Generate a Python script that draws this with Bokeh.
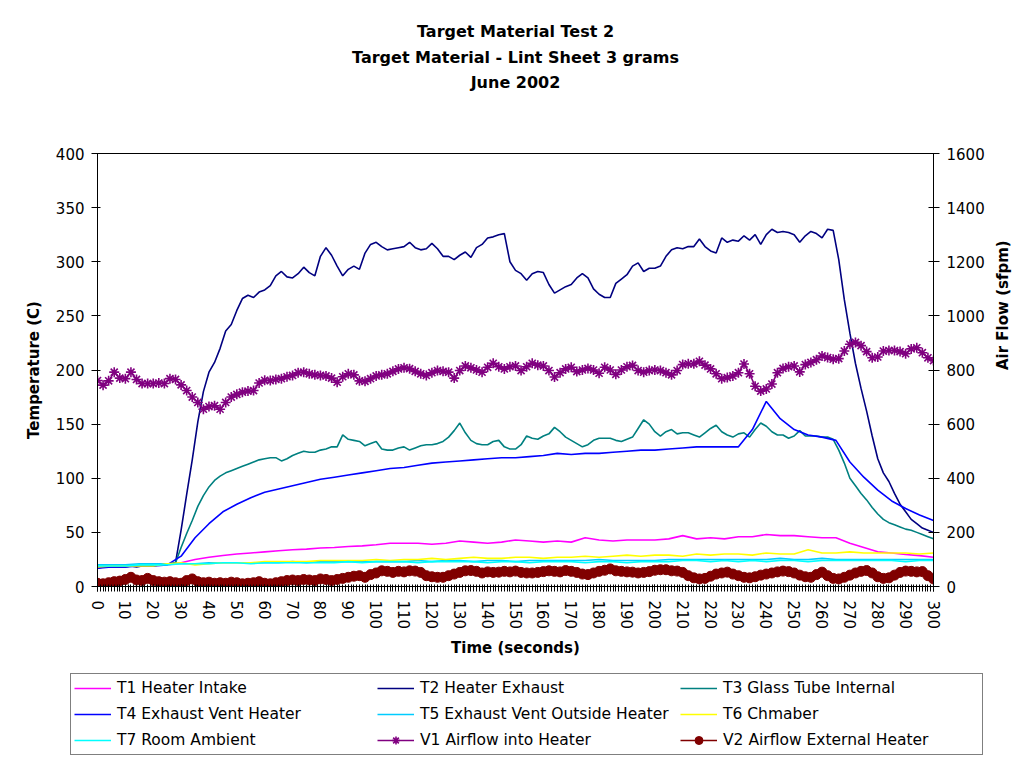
from bokeh.plotting import figure
from bokeh.models import (Range1d, LinearAxis, SingleIntervalTicker, Legend, LegendItem, Title)
from bokeh.embed import file_html
from bokeh.resources import INLINE
import math

# ---------------- data ----------------
# time axis (seconds)
t_fine = list(range(0, 301, 2))
t_coarse = list(range(0, 301, 5))

T2_heater_exhaust = [17, 18, 18, 18, 18, 18, 19, 18, 19, 19, 19, 20, 20, 21, 22,
    52, 85, 117, 152, 180, 198, 207, 220, 236, 242, 255, 266, 269, 267, 272,
    274, 278, 287, 291, 286, 285, 289, 295, 290, 287, 305, 313, 306, 296, 287,
    293, 296, 293, 308, 316, 318, 314, 311, 312, 313, 314, 318, 313, 311, 312,
    317, 312, 305, 305, 302, 306, 309, 304, 313, 316, 322, 323, 325, 326, 300,
    292, 289, 283, 289, 291, 290, 279, 271, 274, 277, 279, 285, 289, 285, 275,
    270, 267, 267, 280, 284, 288, 296, 299, 291, 294, 294, 296, 305, 311, 313,
    312, 314, 314, 321, 314, 310, 308, 322, 318, 320, 319, 324, 320, 325, 316,
    325, 330, 327, 328, 327, 325, 318, 324, 328, 326, 322, 330, 329, 302, 265,
    234, 206, 183, 162, 139, 118, 105, 97, 86, 76, 69, 62, 58, 54, 52, 50]

T3_glass_tube = [18, 18, 18, 19, 19, 19, 19, 19, 20, 20, 20, 21, 21, 21, 22,
    36, 49, 61, 74, 84, 92, 98, 102, 105, 107, 109, 111, 113, 115, 117,
    118, 119, 119, 116, 118, 121, 123, 125, 124, 124, 126, 127, 129, 129, 140,
    136, 135, 134, 130, 132, 134, 127, 126, 126, 128, 129, 126, 128, 130, 131,
    131, 132, 134, 138, 144, 151, 142, 135, 132, 131, 131, 134, 135, 129, 127,
    127, 131, 139, 137, 136, 139, 141, 147, 143, 138, 135, 132, 129, 131, 135,
    137, 137, 137, 135, 134, 136, 138, 146, 154, 150, 143, 139, 143, 145, 141,
    142, 142, 140, 138, 142, 146, 149, 143, 140, 138, 141, 142, 138, 145, 151,
    148, 143, 140, 140, 137, 139, 144, 139, 139, 139, 138, 138, 136, 126, 114,
    100, 93, 86, 80, 73, 67, 62, 59, 57, 55, 53, 52, 50, 48, 46, 44]

V1_airflow_into = [761, 744, 760, 792, 770, 768, 792, 765, 750, 750, 750, 752, 750, 768, 765,
    745, 724, 700, 680, 655, 665, 668, 655, 680, 700, 710, 718, 722, 724, 752,
    762, 761, 765, 768, 775, 780, 790, 792, 786, 782, 780, 778, 770, 755, 775,
    786, 782, 760, 758, 768, 778, 782, 786, 795, 804, 808, 805, 795, 786, 780,
    790, 798, 795, 792, 770, 798, 815, 808, 800, 792, 810, 825, 812, 804, 812,
    815, 798, 812, 825, 818, 815, 798, 774, 790, 804, 810, 794, 800, 806, 800,
    788, 810, 800, 784, 800, 812, 817, 798, 792, 798, 800, 798, 790, 782, 798,
    820, 823, 823, 832, 818, 804, 786, 768, 772, 778, 790, 822, 786, 740, 722,
    730, 748, 790, 806, 812, 815, 793, 820, 828, 838, 852, 846, 840, 842, 870,
    895, 902, 890, 868, 845, 848, 870, 872, 872, 868, 860, 878, 882, 864, 845, 835]

V2_airflow_external = [12, 10, 14, 18, 20, 26, 34, 24, 22, 30, 22, 18, 16, 18, 14,
    12, 22, 28, 18, 14, 16, 12, 14, 12, 16, 14, 10, 12, 14, 18,
    12, 10, 14, 18, 22, 24, 22, 26, 24, 22, 28, 26, 22, 26, 30,
    34, 38, 40, 34, 44, 50, 58, 56, 52, 56, 54, 58, 57, 52, 40,
    36, 34, 34, 40, 46, 52, 58, 59, 56, 50, 54, 52, 53, 56, 54,
    57, 52, 50, 50, 52, 55, 58, 56, 54, 59, 56, 52, 46, 44, 50,
    56, 60, 65, 58, 56, 54, 53, 50, 52, 55, 60, 62, 62, 58, 57,
    52, 40, 32, 28, 30, 38, 46, 50, 53, 46, 40, 34, 32, 36, 42,
    46, 50, 54, 57, 55, 50, 42, 36, 34, 44, 53, 40, 30, 28, 34,
    42, 50, 56, 59, 50, 36, 30, 32, 42, 52, 57, 56, 54, 55, 40, 28]

T1_heater_intake = [18, 19, 19, 19, 20, 20, 22, 25, 27, 28.6, 30, 31, 32, 33, 34,
    34.5, 35.5, 36, 37, 37.5, 38.5, 40, 40, 40, 39, 40, 42, 41, 40, 41,
    43, 42, 41, 42, 41, 45, 43, 42, 43, 43, 43, 44, 47, 44, 45,
    44, 46, 46, 48, 47, 47, 46, 45, 45, 40, 36, 32, 31, 29.5, 28.5, 27]

T4_exhaust_vent = [17, 18, 18, 19, 19, 20, 28, 45, 58, 69, 76, 82, 87, 90, 93,
    96, 99, 101, 103, 105, 107, 109, 110, 112, 114, 115, 116, 117, 118, 119,
    119, 120, 121, 123, 122, 123, 123, 124, 125, 126, 126, 127, 128, 129, 129,
    129, 129, 145, 171, 155, 145, 140, 138, 135, 115, 101, 89, 79, 72, 66, 61]

T5_exhaust_outside = [20, 20, 20, 21, 21, 21, 21, 21, 22, 22, 22, 22, 22, 22, 23,
    22, 23, 23, 23, 23, 23, 23, 23, 24, 23, 24, 24, 23, 24, 24,
    23, 24, 24, 24, 24, 24, 25, 24, 24, 24, 24, 25, 25, 25, 25,
    25, 25, 25, 25, 26, 25, 25, 26, 25, 25, 25, 25, 25, 25, 25, 25]

T6_chamber = [18, 19, 19, 19, 19, 21, 22, 20, 21, 22, 22, 22, 23, 23, 23,
    23, 24, 24, 24, 24, 25, 24, 25, 25, 26, 25, 26, 27, 26, 26,
    27, 27, 26, 27, 27, 28, 27, 28, 29, 28, 29, 29, 28, 30, 29,
    30, 30, 29, 31, 30, 30, 34, 31, 31, 32, 31, 31, 31, 31, 30, 31]

T7_room_ambient = [19, 19, 19, 20, 20, 20, 21, 21, 21, 22, 22, 21, 22, 22, 22,
    22, 22, 22, 23, 22, 23, 23, 23, 22, 23, 23, 23, 23, 22, 23,
    23, 22, 23, 23, 23, 22, 23, 23, 22, 23, 23, 23, 24, 24, 23,
    24, 23, 24, 23, 24, 24, 23, 24, 24, 24, 24, 24, 24, 23, 24, 24]

title_lines = ["Target Material Test 2", "Target Material - Lint Sheet 3 grams", "June 2002"]

series_labels = ["T1 Heater Intake", "T2 Heater Exhaust", "T3 Glass Tube Internal",
                 "T4 Exhaust Vent Heater", "T5 Exhaust Vent Outside Heater", "T6 Chmaber",
                 "T7 Room Ambient", "V1 Airflow into Heater", "V2 Airflow External Heater"]
series_colors = ["#FF00FF", "#000080", "#008080", "#0000FF", "#00CCFF", "#FFFF00",
                 "#00FFFF", "#800080", "#800000"]

# ---------------- main figure ----------------
FONT = "DejaVu Sans"
W = 1026
H_MAIN = 660
H_LEG = 769 - H_MAIN

p = figure(width=W, height=H_MAIN, output_backend="svg", toolbar_location=None,
           x_range=Range1d(0, 300), y_range=Range1d(0, 400),
           min_border_left=97, min_border_right=93, min_border_top=153, min_border_bottom=H_MAIN - 586,
           background_fill_color="white", border_fill_color="white")
p.xgrid.visible = False
p.ygrid.visible = False
p.outline_line_color = "black"
p.outline_line_width = 1
p.extra_y_ranges = {"flow": Range1d(0, 1600)}

# spacer between frame and title block, then the three title lines (nearest first)
p.add_layout(Title(text=" ", text_font=FONT, text_font_size="16px", standoff=39), "above")
for txt, so in zip(reversed(title_lines), (4, 4, 6)):
    p.add_layout(Title(text=txt, align="center", text_font=FONT, text_font_size="16px",
                       text_font_style="bold", text_color="black", standoff=so), "above")

# x axis
xa = p.xaxis[0]
xa.ticker = SingleIntervalTicker(interval=10, num_minor_ticks=10)
xa.major_label_orientation = "vertical"
xa.axis_label = "Time (seconds)"

# left axis
ya = p.yaxis[0]
ya.ticker = SingleIntervalTicker(interval=50, num_minor_ticks=0)
ya.axis_label = "Temperature (C)"

# right axis
ra = LinearAxis(y_range_name="flow", axis_label="Air Flow (sfpm)",
                ticker=SingleIntervalTicker(interval=200, num_minor_ticks=0))
p.add_layout(ra, "right")

for ax in (xa, ya, ra):
    ax.axis_line_color = "black"
    ax.major_tick_line_color = "black"
    ax.minor_tick_line_color = "black"
    ax.major_label_text_font = FONT
    ax.major_label_text_font_size = "15px"
    ax.major_label_text_color = "black"
    ax.axis_label_text_font = FONT
    ax.axis_label_text_font_size = "15px"
    ax.axis_label_text_font_style = "bold"
    ax.axis_label_text_color = "black"

xa.major_tick_in = 2
xa.major_tick_out = 5
xa.minor_tick_in = 2
xa.minor_tick_out = 5
xa.major_label_standoff = 9
xa.axis_label_standoff = 7
ya.major_tick_in = 3
ya.major_tick_out = 6
ya.minor_tick_in = 0
ya.minor_tick_out = 0
ya.major_label_standoff = 7
ya.axis_label_standoff = 10
ra.major_tick_in = 5
ra.major_tick_out = 6
ra.minor_tick_in = 0
ra.minor_tick_out = 0
ra.major_label_standoff = 7
ra.axis_label_standoff = 15
ra.axis_label_orientation = math.pi / 2

LW = 1.6
p.line(t_coarse, T1_heater_intake, line_color=series_colors[0], line_width=LW)
p.line(t_fine, T2_heater_exhaust, line_color=series_colors[1], line_width=LW)
p.line(t_fine, T3_glass_tube, line_color=series_colors[2], line_width=LW)
p.line(t_coarse, T4_exhaust_vent, line_color=series_colors[3], line_width=LW)
p.line(t_coarse, T5_exhaust_outside, line_color=series_colors[4], line_width=LW)
p.line(t_coarse, T6_chamber, line_color=series_colors[5], line_width=LW)
p.line(t_coarse, T7_room_ambient, line_color=series_colors[6], line_width=LW)
p.line(t_fine, V1_airflow_into, line_color=series_colors[7], line_width=LW, y_range_name="flow")
p.scatter(t_fine, V1_airflow_into, marker="asterisk", size=10, line_color=series_colors[7],
          line_width=1.6, y_range_name="flow")
p.line(t_fine, V2_airflow_external, line_color=series_colors[8], line_width=LW, y_range_name="flow")
p.scatter(t_fine, V2_airflow_external, marker="circle", size=10, line_color=series_colors[8],
          fill_color=series_colors[8], y_range_name="flow")

# ---------------- legend strip (separate root, below the chart) ----------------
q = figure(width=W, height=H_LEG, output_backend="svg", toolbar_location=None,
           x_range=Range1d(0, 1), y_range=Range1d(0, 1), x_axis_type=None, y_axis_type=None,
           min_border=0, min_border_left=0, min_border_right=0, min_border_top=0, min_border_bottom=0,
           background_fill_color="white", border_fill_color="white")
q.outline_line_color = None
q.xgrid.visible = False
q.ygrid.visible = False

items = []
for i, (lab, col) in enumerate(zip(series_labels, series_colors)):
    # glyph proxies placed outside the visible range; only used for the legend swatches
    rs = [q.line([-5, -4], [-5, -4], line_color=col, line_width=LW)]
    if i == 7:
        rs.append(q.scatter([-5], [-5], marker="asterisk", size=10, line_color=col, line_width=1.6))
    if i == 8:
        rs.append(q.scatter([-5], [-5], marker="circle", size=10, line_color=col, fill_color=col))
    items.append(LegendItem(label=lab, renderers=rs))

legend = Legend(items=items, orientation="horizontal", ncols=3,
                label_text_font=FONT, label_text_font_size="15.5px", label_text_color="black",
                glyph_width=37, glyph_height=20, label_width=256, label_height=22,
                label_standoff=6, spacing=4, padding=3, margin=0,
                border_line_color="black", border_line_width=1,
                background_fill_color="white", background_fill_alpha=1.0,
                location=(70, 14))
q.add_layout(legend, "center")

open("out.html", "w").write(file_html([p, q], INLINE))
